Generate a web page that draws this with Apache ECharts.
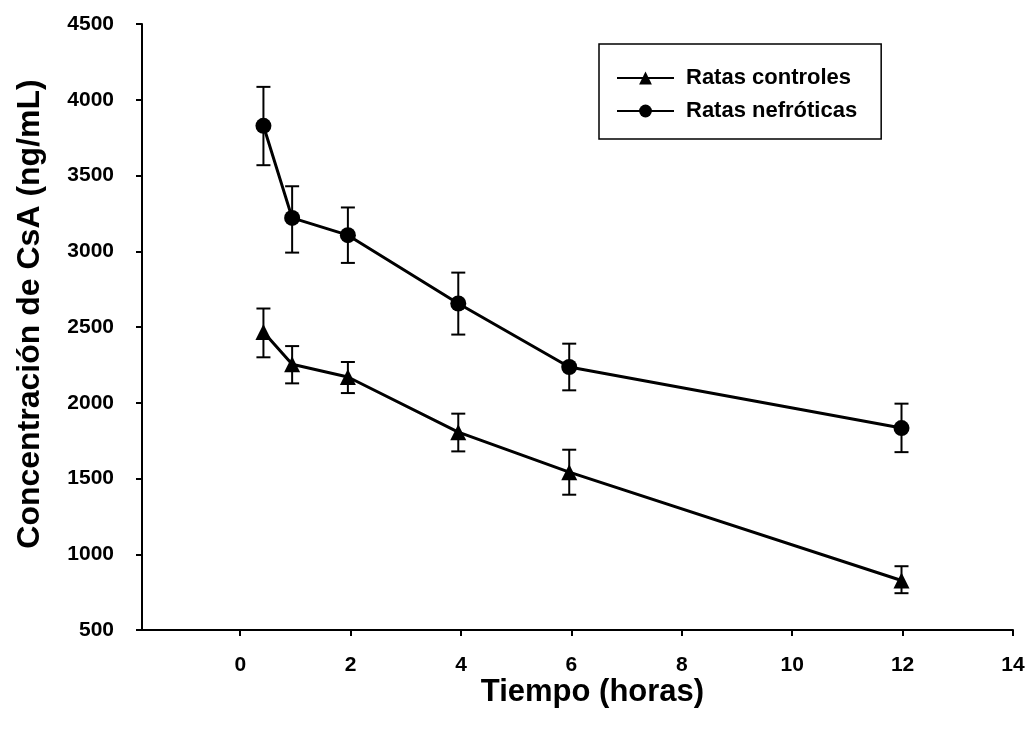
<!DOCTYPE html>
<html>
<head>
<meta charset="utf-8">
<script src="https://cdn.jsdelivr.net/npm/echarts@6/dist/echarts.min.js"></script>
<style>
html,body{margin:0;padding:0;background:#fff;}
#chart{width:1029px;height:730px;}
</style>
</head>
<body>
<div id="chart"></div>
<script>
const seriesNames = ['Ratas controles', 'Ratas nefróticas'];
const times = [0.42, 0.94, 1.95, 3.95, 5.96, 11.98];
const ctrlMean = [2467, 2254, 2170, 1806, 1542, 827];
const ctrlLow  = [2300, 2128, 2064, 1679, 1393, 743];
const ctrlHigh = [2622, 2374, 2269, 1928, 1690, 921];
const nefMean = [3828, 3220, 3106, 2655, 2236, 1833];
const nefLow  = [3568, 2991, 2923, 2450, 2082, 1674];
const nefHigh = [4085, 3429, 3289, 2859, 2390, 1994];
const xTicks = [0, 2, 4, 6, 8, 10, 12, 14];

const chart = echarts.init(document.getElementById('chart'));
const FONT = 'Liberation Sans, Arial, sans-serif';

function errData(low, high) {
  return times.map((t, i) => [t, low[i], high[i]]);
}
function errRender(params, api) {
  const x = api.value(0);
  const lo = api.coord([x, api.value(1)]);
  const hi = api.coord([x, api.value(2)]);
  const w = 7;
  const style = { stroke: '#000', lineWidth: 2 };
  return {
    type: 'group',
    children: [
      { type: 'line', shape: { x1: lo[0], y1: lo[1], x2: hi[0], y2: hi[1] }, style },
      { type: 'line', shape: { x1: lo[0] - w, y1: lo[1], x2: lo[0] + w, y2: lo[1] }, style },
      { type: 'line', shape: { x1: hi[0] - w, y1: hi[1], x2: hi[0] + w, y2: hi[1] }, style }
    ]
  };
}

const option = {
  backgroundColor: '#fff',
  animation: false,
  grid: { left: 142, right: 16, top: 24, bottom: 100, containLabel: false },
  legend: {
    data: seriesNames,
    orient: 'vertical',
    left: 599,
    top: 44,
    padding: [23, 24, 17, 17],
    itemGap: 11,
    itemWidth: 57,
    itemHeight: 16,
    borderColor: '#000',
    borderWidth: 1.5,
    borderRadius: 0,
    textStyle: { fontFamily: FONT, fontSize: 22, fontWeight: 'bold', color: '#000', padding: [0, 0, 0, 7] }
  },
  xAxis: {
    type: 'value',
    min: -1.78,
    max: 14,
    name: 'Tiempo (horas)',
    nameLocation: 'middle',
    nameGap: 47,
    nameMoveOverlap: false,
    nameTextStyle: { fontFamily: FONT, fontSize: 31, fontWeight: 'bold', color: '#000', padding: [0, 0, 0, 30] },
    axisLine: { onZero: false, lineStyle: { color: '#000', width: 2 } },
    axisTick: { show: true, length: 6, inside: false, lineStyle: { color: '#000', width: 2 }, customValues: xTicks },
    axisLabel: { customValues: xTicks, fontFamily: FONT, fontSize: 21, fontWeight: 'bold', color: '#000', margin: 25 },
    splitLine: { show: false }
  },
  yAxis: {
    type: 'value',
    min: 500,
    max: 4500,
    interval: 500,
    name: 'Concentración de CsA (ng/mL)',
    nameLocation: 'middle',
    nameGap: 96,
    nameMoveOverlap: false,
    nameTextStyle: { fontFamily: FONT, fontSize: 32, fontWeight: 'bold', color: '#000', padding: [0, 0, 0, 26] },
    axisLine: { show: true, onZero: false, lineStyle: { color: '#000', width: 2 } },
    axisTick: { show: true, length: 6, inside: false, lineStyle: { color: '#000', width: 2 } },
    axisLabel: { fontFamily: FONT, fontSize: 21, fontWeight: 'bold', color: '#000', margin: 28, formatter: v => String(v) },
    splitLine: { show: false }
  },
  series: [
    {
      name: seriesNames[0],
      type: 'line',
      data: times.map((t, i) => [t, ctrlMean[i]]),
      symbol: 'triangle',
      symbolSize: 16,
      itemStyle: { color: '#000' },
      lineStyle: { color: '#000', width: 3 },
      z: 3
    },
    {
      name: seriesNames[1],
      type: 'line',
      data: times.map((t, i) => [t, nefMean[i]]),
      symbol: 'circle',
      symbolSize: 16,
      itemStyle: { color: '#000' },
      lineStyle: { color: '#000', width: 3 },
      z: 3
    },
    {
      name: 'err1',
      type: 'custom',
      renderItem: errRender,
      data: errData(ctrlLow, ctrlHigh),
      encode: { x: 0, y: [1, 2] },
      silent: true,
      z: 2
    },
    {
      name: 'err2',
      type: 'custom',
      renderItem: errRender,
      data: errData(nefLow, nefHigh),
      encode: { x: 0, y: [1, 2] },
      silent: true,
      z: 2
    }
  ]
};
chart.setOption(option);
</script>
</body>
</html>
